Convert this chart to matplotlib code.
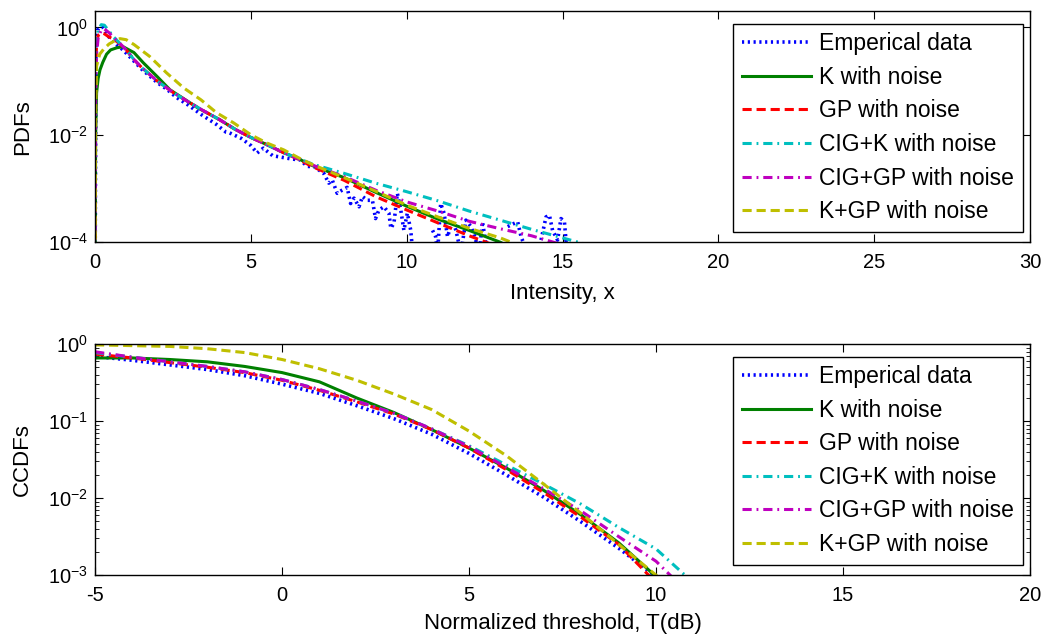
import numpy as np
import matplotlib
matplotlib.use("Agg")
import matplotlib.pyplot as plt

plt.rcParams['font.family'] = ['Liberation Sans', 'DejaVu Sans']
plt.rcParams['axes.unicode_minus'] = False
plt.rcParams['mathtext.default'] = 'regular'

labels = ["Emperical data", "K with noise", "GP with noise",
          "CIG+K with noise", "CIG+GP with noise", "K+GP with noise"]

# ---- top panel: PDFs (values given as log10) ----
emp_x = [0, 0.03, 0.08, 0.15, 0.25, 0.35, 0.5, 0.7, 0.9, 1.2, 1.5, 1.8, 2.0, 2.3, 2.6, 3.0,
         3.4, 3.9, 4.2, 4.3, 4.7, 5.0, 5.2, 5.4, 5.7, 6.0, 6.3, 6.59, 6.81, 7.02, 7.34, 7.5,
         7.61, 7.77, 7.93, 8.09, 8.2, 8.31, 8.47, 8.58, 8.74, 8.9, 9.0, 9.11, 9.27, 9.43, 9.49,
         9.59, 9.7, 9.81, 9.91, 10.02, 10.13, 10.24, 10.5, 10.83, 10.93, 10.99, 11.09, 11.2,
         11.31, 11.47, 11.58, 11.74, 11.9, 12.06, 12.17, 12.33, 12.43, 12.59, 12.8, 13.24,
         13.45, 13.56, 13.67, 13.88, 14.1, 14.31, 14.47, 14.58, 14.68, 14.84, 14.95, 15.06,
         15.11, 15.17]
emp_log = [-5, -0.3, -0.05, 0.0, 0.0, -0.1, -0.22, -0.33, -0.42, -0.6, -0.78, -0.93, -1.03,
           -1.15, -1.3, -1.45, -1.62, -1.81, -1.95, -1.96, -2.07, -2.2, -2.34, -2.25, -2.39,
           -2.42, -2.45, -2.47, -2.59, -2.59, -2.72, -2.9, -2.84, -3.09, -3.03, -2.98, -3.28,
           -3.18, -3.34, -3.15, -3.22, -3.22, -3.56, -3.4, -3.34, -3.46, -3.74, -3.65, -3.09,
           -3.4, -3.78, -3.46, -3.78, -4.5, np.nan, -3.78, -3.9, -4.2, -3.28, -3.46, -3.9,
           -3.59, -3.78, -4.2, -3.59, -3.71, -3.87, -4.2, -3.62, -4.2, np.nan, -3.71, -3.65,
           -3.62, -3.9, -4.2, np.nan, -3.96, -3.53, -3.5, -3.78, -3.96, -3.56, -3.62, -3.96, -4.2]

k_x = [0, 0.02, 0.05, 0.1, 0.16, 0.25, 0.37, 0.5, 0.7, 0.9, 1.25, 1.55, 2.0, 2.4, 2.85, 3.3,
       4, 4.5, 5, 5.5, 6, 6.5, 7, 8, 9, 10, 11, 12, 13, 14]
k_log = [-5, -2.0, -1.22, -0.95, -0.79, -0.65, -0.5, -0.42, -0.38, -0.36, -0.47, -0.66, -0.92,
         -1.16, -1.33, -1.5, -1.72, -1.9, -2.05, -2.18, -2.32, -2.44, -2.58, -2.8, -3.07,
         -3.33, -3.57, -3.78, -4.0, -4.3]

fit_x = [0, 0.02, 0.05, 0.1, 0.2, 0.3, 0.45, 0.6, 0.8, 1.0, 1.25, 1.5, 2, 2.5, 3, 3.5, 4,
         4.5, 5, 5.5, 6, 6.5, 7, 8, 9, 10, 11, 12, 13, 14, 15, 16]
gp_log = [-5, -0.8, -0.3, -0.15, -0.1, -0.12, -0.18, -0.22, -0.31, -0.42, -0.6, -0.75, -1.0,
          -1.21, -1.39, -1.56, -1.72, -1.9, -2.05, -2.18, -2.32, -2.45, -2.6, -2.85, -3.15,
          -3.4, -3.64, -3.88, -4.1, -4.4, -4.7, -5.0]
cigk_log = [-5, -1.0, -0.3, -0.05, 0.05, 0.04, -0.07, -0.18, -0.3, -0.42, -0.6, -0.75, -1.0,
            -1.21, -1.39, -1.56, -1.72, -1.9, -2.05, -2.18, -2.32, -2.44, -2.55, -2.72, -2.9,
            -3.06, -3.23, -3.42, -3.59, -3.76, -3.92, -4.08]
cigp_log = [-5, -1.2, -0.5, -0.2, -0.05, -0.03, -0.1, -0.19, -0.3, -0.42, -0.6, -0.75, -1.0,
            -1.21, -1.39, -1.56, -1.72, -1.9, -2.05, -2.18, -2.32, -2.44, -2.57, -2.78, -3.03,
            -3.25, -3.42, -3.61, -3.75, -3.88, -4.05, -4.2]

kgp_x = [0, 0.02, 0.05, 0.15, 0.27, 0.45, 0.6, 0.8, 1.0, 1.25, 1.75, 2.3, 2.85, 3.4, 3.9,
         4.45, 5.0, 5.5, 6.05, 6.6, 7, 8, 9, 10, 11, 12, 13, 14]
kgp_log = [-5, -1.5, -0.72, -0.5, -0.41, -0.31, -0.26, -0.21, -0.23, -0.32, -0.54, -0.85,
           -1.13, -1.35, -1.59, -1.78, -2.0, -2.15, -2.28, -2.45, -2.56, -2.8, -3.05, -3.31,
           -3.53, -3.74, -3.92, -4.15]

# ---- bottom panel: CCDFs (values given as log10) ----
thr_db = [-5, -4, -3, -2, -1, 0, 1, 2, 3, 4, 5, 6, 7, 8, 9, 10, 11]
ccdf_emp = [-0.16, -0.21, -0.27, -0.33, -0.41, -0.52, -0.64, -0.8, -0.97, -1.17, -1.42, -1.7,
            -1.99, -2.31, -2.65, -3.02, -3.6]
ccdf_k = [-0.18, -0.18, -0.2, -0.23, -0.29, -0.37, -0.49, -0.7, -0.89, -1.11, -1.35, -1.61,
          -1.9, -2.22, -2.58, -3.02, -3.5]
ccdf_gp = [-0.13, -0.18, -0.24, -0.3, -0.37, -0.47, -0.6, -0.75, -0.91, -1.11, -1.35, -1.63,
           -1.93, -2.25, -2.6, -3.1, -3.6]
ccdf_cigk = [-0.11, -0.17, -0.23, -0.29, -0.36, -0.46, -0.59, -0.74, -0.9, -1.1, -1.32, -1.57,
             -1.82, -2.08, -2.38, -2.66, -3.1]
ccdf_cigp = [-0.1, -0.17, -0.23, -0.29, -0.36, -0.46, -0.59, -0.74, -0.9, -1.1, -1.33, -1.6,
             -1.88, -2.17, -2.5, -2.82, -3.3]
ccdf_kgp = [-0.01, -0.02, -0.03, -0.06, -0.11, -0.2, -0.32, -0.47, -0.65, -0.85, -1.13, -1.45,
            -1.82, -2.2, -2.6, -3.0, -3.5]

colors = ['#0000ff', '#008000', '#ff0000', '#00bfbf', '#bf00bf', '#bfbf00']
styles = [dict(ls=(0, (0.6, 1.0)), lw=2.6),
          dict(ls='-', lw=2.2),
          dict(ls=(0, (3, 1.6)), lw=2.2),
          dict(ls=(0, (3, 1.6, 0.6, 1.6)), lw=2.2),
          dict(ls=(0, (3, 1.6, 0.6, 1.6)), lw=2.2),
          dict(ls=(0, (3, 1.6)), lw=2.2)]

fig = plt.figure(figsize=(10.5, 6.39), dpi=100)
ax1 = fig.add_axes([0.0905, 0.621, 0.8905, 0.3615])
ax2 = fig.add_axes([0.0905, 0.100, 0.8905, 0.3615])

top_series = [(emp_x, emp_log), (k_x, k_log), (fit_x, gp_log),
              (fit_x, cigk_log), (fit_x, cigp_log), (kgp_x, kgp_log)]
for (xs, ys), c, st, lab in zip(top_series, colors, styles, labels):
    ax1.plot(xs, 10.0 ** np.array(ys, dtype=float), color=c, label=lab, **st)

bot_series = [ccdf_emp, ccdf_k, ccdf_gp, ccdf_cigk, ccdf_cigp, ccdf_kgp]
for ys, c, st, lab in zip(bot_series, colors, styles, labels):
    ax2.plot(thr_db, 10.0 ** np.array(ys), color=c, label=lab, **st)

ax1.set_yscale('log')
ax1.set_xlim(0, 30)
ax1.set_ylim(1e-4, 2)
ax1.set_xticks([0, 5, 10, 15, 20, 25, 30])
ax1.set_yticks([1e-4, 1e-2, 1e0])
ax1.yaxis.set_minor_locator(matplotlib.ticker.NullLocator())
ax1.set_xlabel('Intensity, x', fontsize=16)
ax1.set_ylabel('PDFs', fontsize=16)
ax1.xaxis.set_label_coords(0.5, -0.175)
ax1.yaxis.set_label_coords(-0.066, 0.5)

ax2.set_yscale('log')
ax2.set_xlim(-5, 20)
ax2.set_ylim(1e-3, 1)
ax2.set_xticks([-5, 0, 5, 10, 15, 20])
ax2.set_yticks([1e-3, 1e-2, 1e-1, 1e0])
ax2.set_xlabel('Normalized threshold, T(dB)', fontsize=16)
ax2.set_ylabel('CCDFs', fontsize=16)
ax2.xaxis.set_label_coords(0.5, -0.165)
ax2.yaxis.set_label_coords(-0.066, 0.5)

for ax in (ax1, ax2):
    ax.tick_params(which='both', direction='in', top=True, right=True, labelsize=14.5)
    ax.tick_params(axis='x', pad=8)
    ax.tick_params(axis='y', pad=5)
    ax.tick_params(which='major', length=6)
    ax.tick_params(which='minor', length=3)
    for s in ax.spines.values():
        s.set_linewidth(1.0)
    leg = ax.legend(loc='upper right', bbox_to_anchor=(0.9925, 0.946), borderaxespad=0,
                    fontsize=16.5, frameon=True, fancybox=False, framealpha=1,
                    edgecolor='black', handlelength=3.05, labelspacing=0.46,
                    borderpad=0.38, handletextpad=0.35)
    leg.get_frame().set_linewidth(1.0)

fig.savefig('out.png', dpi=100)
